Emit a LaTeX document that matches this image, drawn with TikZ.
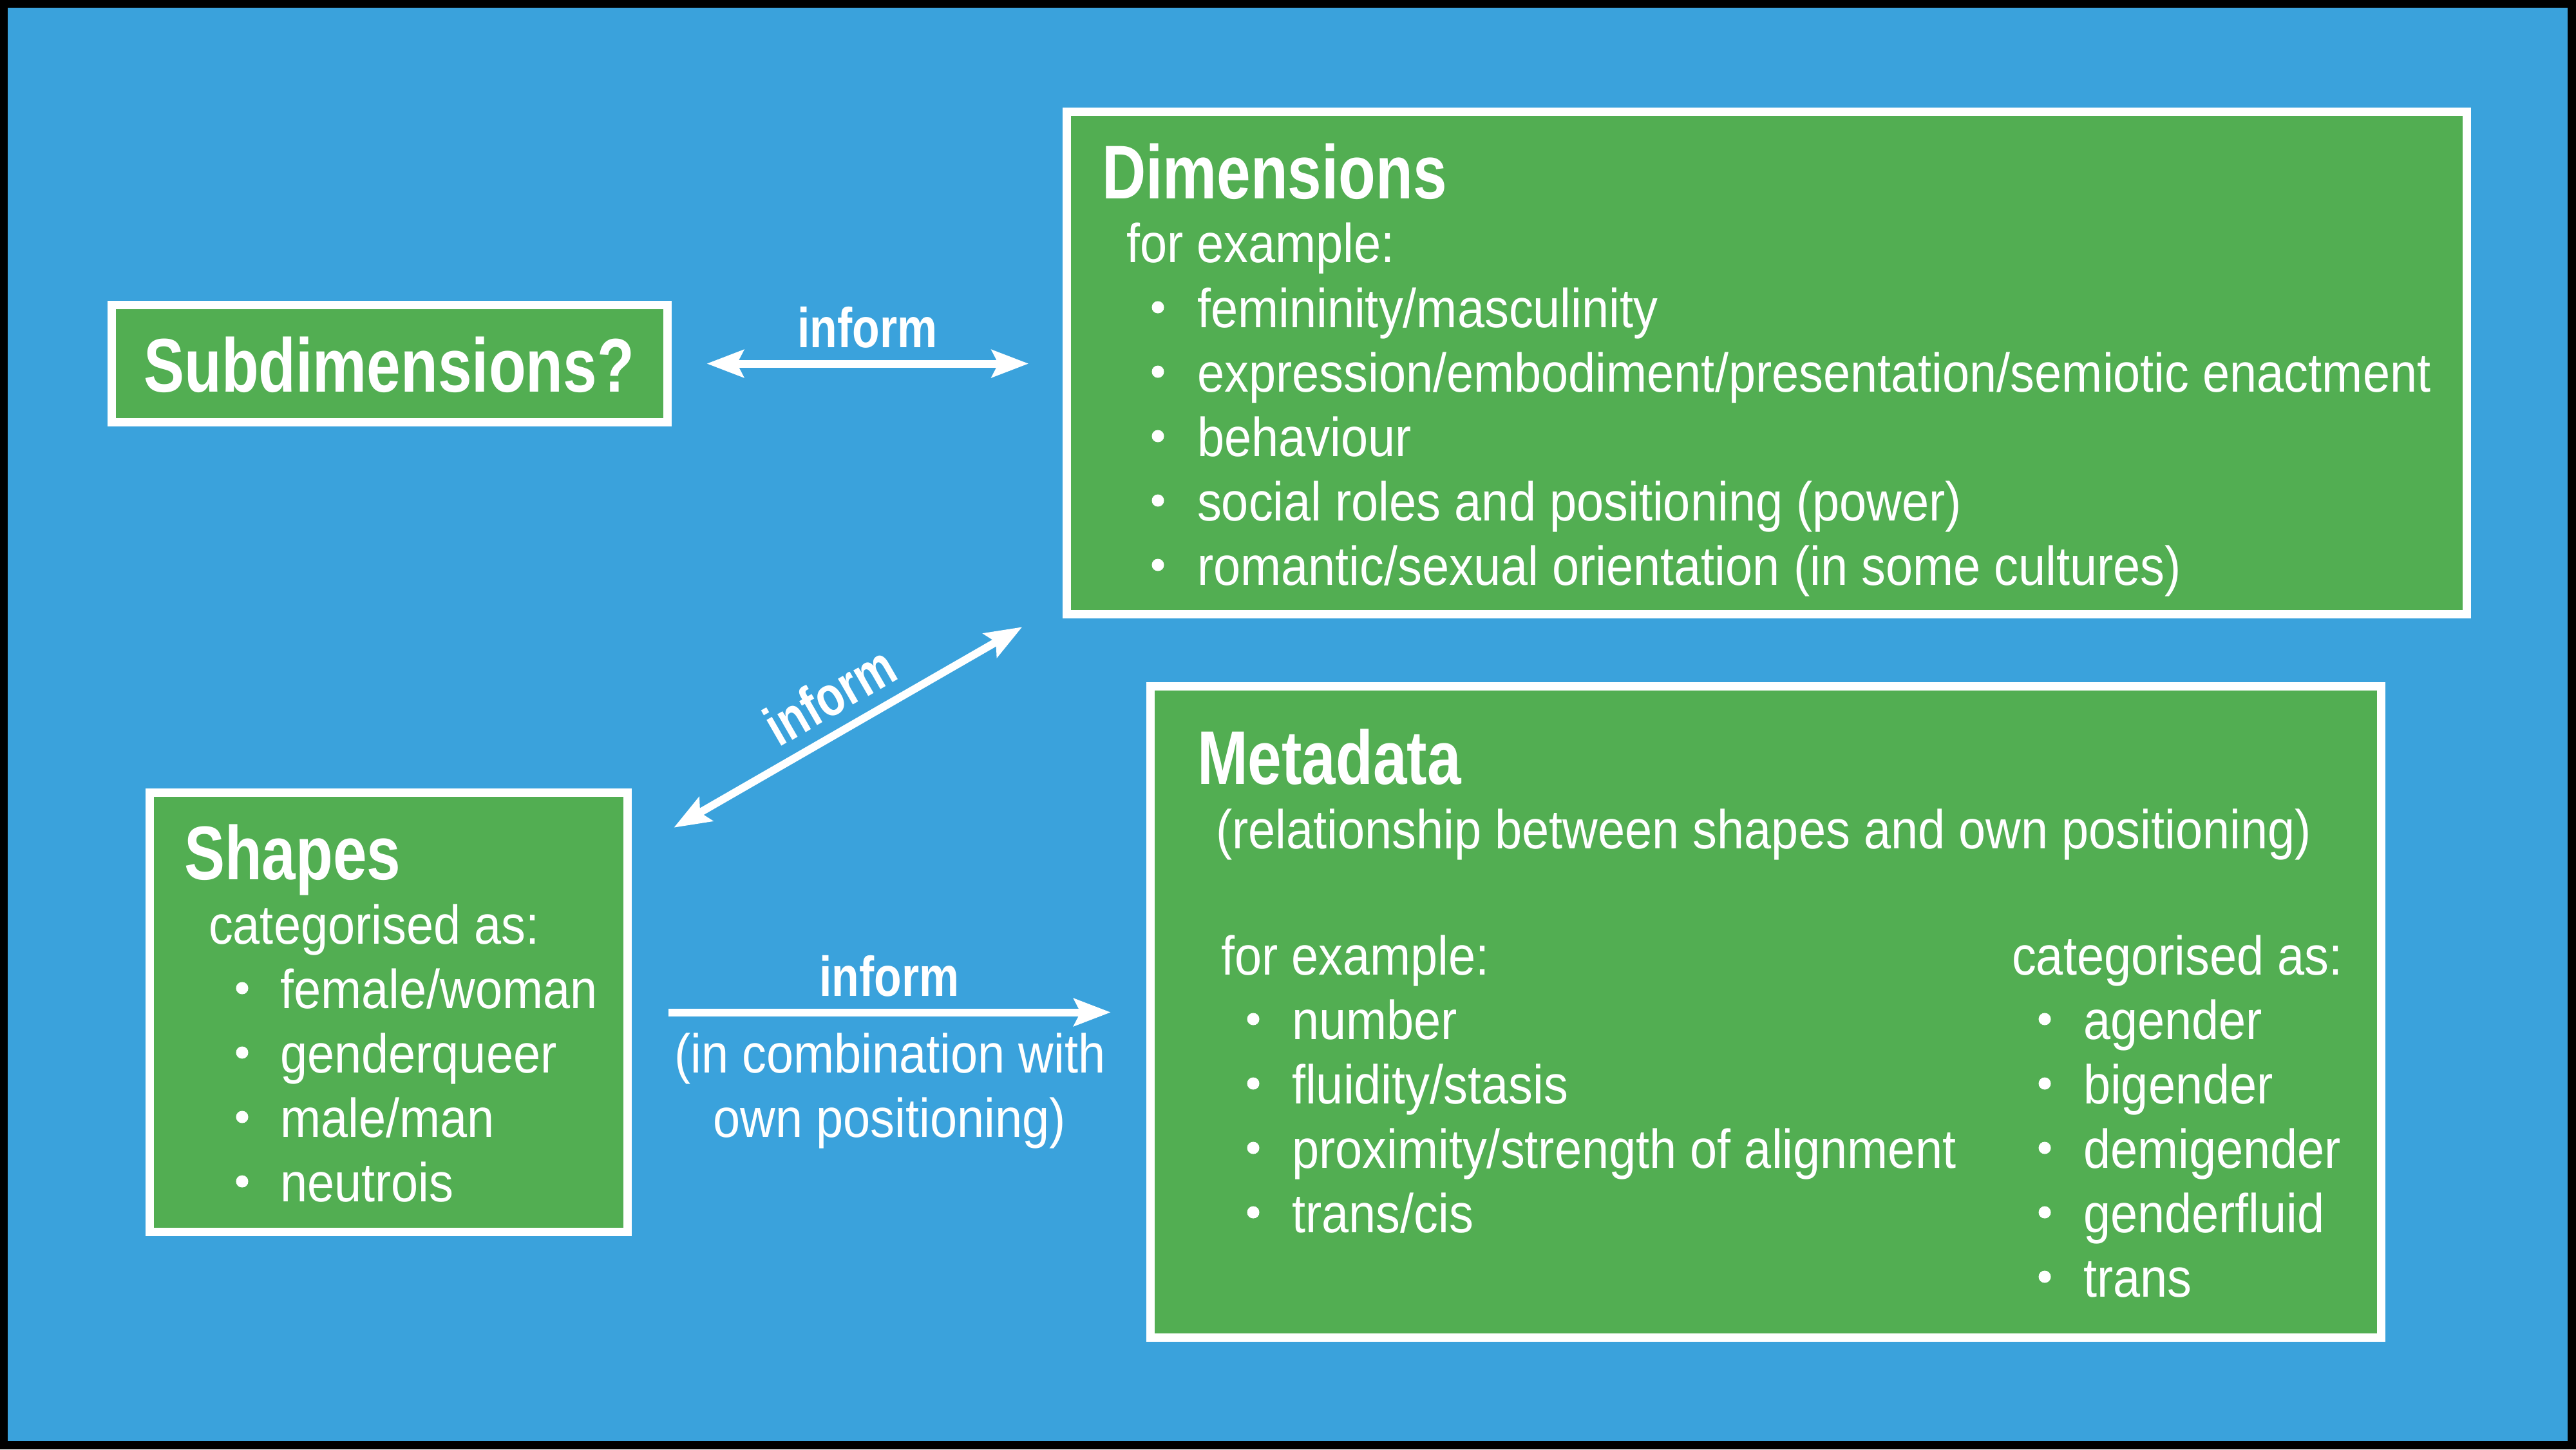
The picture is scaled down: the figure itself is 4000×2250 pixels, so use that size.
\documentclass[tikz,border=0pt]{standalone}
\usepackage{fontspec}
\setmainfont{Liberation Sans}[FakeStretch=0.89]
\newfontfamily\headfont{Liberation Sans}[FakeStretch=0.80]
\usetikzlibrary{arrows.meta,calc}

\definecolor{bgblue}{HTML}{3AA2DC}
\definecolor{boxgreen}{HTML}{52AE52}

\newcommand\txtsize{\fontsize{24.2pt}{28.45pt}\selectfont}
\newcommand\headsize{\fontsize{33.6pt}{40pt}\selectfont}
\newcommand\lblsize{\fontsize{24.8pt}{30pt}\selectfont}

\begin{document}
\begin{tikzpicture}[x=0.01cm, y=-0.01cm,
  panel/.style={draw=white, fill=boxgreen, line width=0.13cm, rectangle, inner sep=0pt},
  txt/.style={text=white, inner sep=0pt, outer sep=0pt, anchor=base west, font=\txtsize},
  head/.style={text=white, inner sep=0pt, outer sep=0pt, anchor=base west, font=\headfont\bfseries\headsize},
  lbl/.style={text=white, inner sep=0pt, outer sep=0pt, font=\headfont\bfseries\lblsize},
  link/.style={draw=white, line width=0.12cm},
  >={Stealth[length=0.57cm, width=0.42cm, inset=0.1cm]},
  dot/.style={fill=white}
]
% frame and background
\fill[black] (0,0) rectangle (4000,2250);
\fill[bgblue] (12,12) rectangle (3987,2237);
\useasboundingbox (0,0) rectangle (4000,2250);

% panels
\node[panel, minimum width=8.63cm,  minimum height=1.82cm]  (sub)  at (605,564.5)    {};
\node[panel, minimum width=21.72cm, minimum height=7.80cm]  (dim)  at (2743.5,563.5) {};
\node[panel, minimum width=7.42cm,  minimum height=6.82cm]  (shp)  at (603.5,1571.5) {};
\node[panel, minimum width=19.09cm, minimum height=10.11cm] (meta) at (2742,1571)    {};

% Subdimensions
\node[head, anchor=base] (subT) at (604,608) {Subdimensions?};

% Dimensions
\node[head] (dimT) at (1711,308) {Dimensions};
\node[txt]  (dimE) at (1749,407) {for example:};
\foreach \t [count=\i] in {femininity/masculinity,
    expression/embodiment/presentation/semiotic enactment,
    behaviour,
    social roles and positioning (power),
    romantic/sexual orientation (in some cultures)} {
  \node[txt] (dim\i) at (1859,408+100*\i) {\t};
  \fill[dot] (1798,377+100*\i) circle (0.095cm);
}

% Shapes
\node[head] (shpT) at (286,1365) {Shapes};
\node[txt]  (shpC) at (324,1465) {categorised as:};
\foreach \t [count=\i] in {female/woman, genderqueer, male/man, neutrois} {
  \node[txt] (shp\i) at (435,1465+100*\i) {\t};
  \fill[dot] (376,1434+100*\i) circle (0.095cm);
}

% Metadata
\node[head] (metaT) at (1859,1217) {Metadata};
\node[txt]  (metaR) at (1888,1317) {(relationship between shapes and own positioning)};
\node[txt]  (metaE) at (1896,1513) {for example:};
\foreach \t [count=\i] in {number, fluidity/stasis,
    proximity/strength of alignment, trans/cis} {
  \node[txt] (metaL\i) at (2006,1513+100*\i) {\t};
  \fill[dot] (1946,1482+100*\i) circle (0.095cm);
}
\node[txt] (metaC) at (3124,1513) {categorised as:};
\foreach \t [count=\i] in {agender, bigender, demigender, genderfluid, trans} {
  \node[txt] (metaR\i) at (3235,1513+100*\i) {\t};
  \fill[dot] (3175,1482+100*\i) circle (0.095cm);
}

% connectors
\draw[link, <->, shorten <=0.54cm, shorten >=0.53cm]
  (sub.east) -- (sub.east -| dim.west)
  node[lbl, midway, above=0.24cm] (inf1) {inform};

\coordinate (dgA) at ($(shp.north east)+(65,61)$);
\coordinate (dgB) at ($(dim.south west)+(-63,13)$);
\draw[link, <->] (dgA) -- (dgB)
  node[lbl, midway, sloped, above=0.25cm] (inf2) {inform};

\draw[link, ->, shorten <=0.57cm, shorten >=0.555cm]
  (shp.east) -- (shp.east -| meta.west)
  node[lbl, midway, above=0.24cm] (inf3) {inform};
\node[txt, anchor=base] (cmb1) at (1382,1665) {(in combination with};
\node[txt, anchor=base] (cmb2) at (1381,1765) {own positioning)};
\end{tikzpicture}
\end{document}
